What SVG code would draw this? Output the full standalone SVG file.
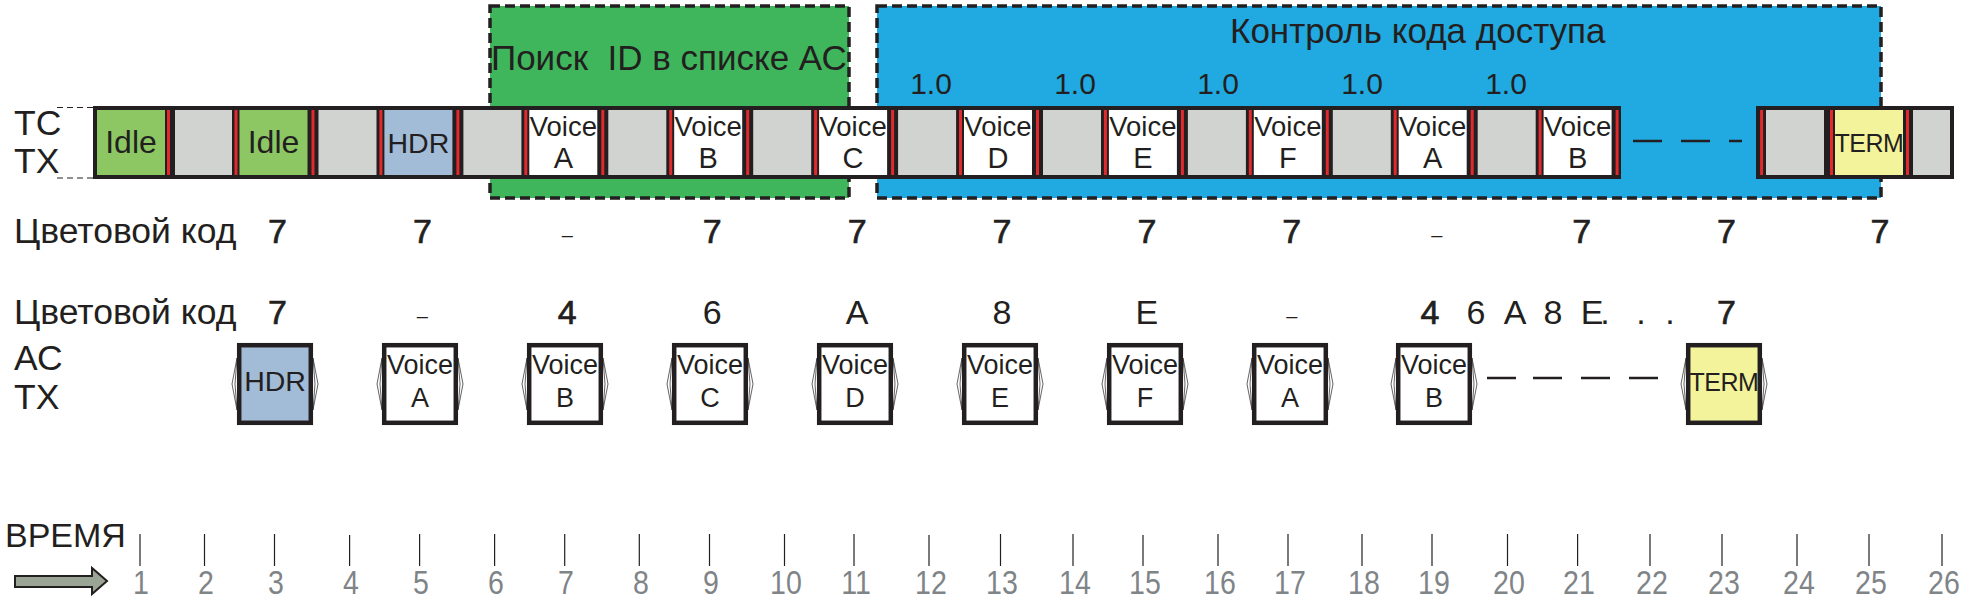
<svg xmlns="http://www.w3.org/2000/svg" width="1978" height="599" viewBox="0 0 1978 599">
<style>
text{font-family:"Liberation Sans",Arial,sans-serif;fill:#231f20}
.lbl{font-size:35.5px}
.val{font-size:34px;text-anchor:middle}
.hv{stroke:#231f20;stroke-width:0.7}
.dash{font-size:20px;text-anchor:middle}
.one{font-size:30px;text-anchor:middle}
.vc{font-size:27.5px;text-anchor:middle}
.lt{font-size:29px;text-anchor:middle}
.avc{font-size:27px;text-anchor:middle}
.tk{font-size:34px;text-anchor:middle;fill:#7f8487}
.band{fill:#231f20}
.red{fill:#e02a2e}
.gr{fill:#d1d3d0}
.wh{fill:#ffffff}
.idle{fill:#8cc764}
.hdr{fill:#a2bbd6}
.term{fill:#f3f39b}
.zone{stroke:#231f20;stroke-width:3.5;stroke-dasharray:10 5}
.acbox{stroke:#231f20;stroke-width:4.5}
.chev{fill:#fff;stroke:#231f20;stroke-width:0.7}
.tick{stroke:#231f20;stroke-width:1.2}
.gap{stroke:#231f20;stroke-width:2.5}
.guide{stroke:#231f20;stroke-width:1;stroke-dasharray:6 4}
</style>

<!-- zones -->
<g id="zone-search">
<rect class="zone" x="490" y="6" width="359" height="192" fill="#3fb65c"/>
<text x="491" y="70" style="font-size:35px;white-space:pre">Поиск  ID в списке АС</text>
</g>
<g id="zone-access">
<rect class="zone" x="877" y="6" width="1004" height="192" fill="#20aae1"/>
<text x="1230" y="43" style="font-size:35px">Контроль кода доступа</text>
<text class="one" x="931" y="94">1.0</text>
<text class="one" x="1075" y="94">1.0</text>
<text class="one" x="1218" y="94">1.0</text>
<text class="one" x="1362" y="94">1.0</text>
<text class="one" x="1506" y="94">1.0</text>
</g>

<!-- row labels -->
<g id="label-tc">
<text class="lbl" x="14" y="135">ТС</text>
<text class="lbl" x="14" y="173">TX</text>
</g>
<g id="label-cc1"><text class="lbl" x="14" y="243">Цветовой код</text></g>
<g id="label-cc2"><text class="lbl" x="14" y="324">Цветовой код</text></g>
<g id="label-ac">
<text class="lbl" x="14" y="370">АС</text>
<text class="lbl" x="14" y="409">TX</text>
</g>

<!-- connectors / guides -->
<g id="connectors">
<line class="guide" x1="57" y1="107.5" x2="93" y2="107.5"/>
<line class="guide" x1="57" y1="178" x2="93" y2="178"/>
<line class="gap" x1="1633" y1="141" x2="1662" y2="141"/>
<line class="gap" x1="1681" y1="141" x2="1710" y2="141"/>
<line class="gap" x1="1729" y1="141" x2="1742" y2="141"/>
<line class="gap" x1="1487" y1="378" x2="1516" y2="378"/>
<line class="gap" x1="1533" y1="378" x2="1562" y2="378"/>
<line class="gap" x1="1581" y1="378" x2="1610" y2="378"/>
<line class="gap" x1="1629" y1="378" x2="1658" y2="378"/>
</g>

<!-- TC TX strip -->
<g id="tc-strip">
<rect class="band" x="93" y="106" width="1528" height="73"/>
<rect class="band" x="1756" y="106" width="198" height="73"/>
<g id="tc-idle1"><rect class="idle" x="97" y="110" width="68" height="65"/><text x="131" y="153" style="font-size:32px;text-anchor:middle">Idle</text></g>
<rect class="gr" x="175" y="110" width="57" height="65"/>
<g id="tc-idle2"><rect class="idle" x="239.5" y="110" width="68" height="65"/><text x="273.5" y="153" style="font-size:32px;text-anchor:middle">Idle</text></g>
<rect class="gr" x="318.5" y="110" width="58" height="65"/>
<g id="tc-hdr"><rect class="hdr" x="384.4" y="110" width="68" height="65"/><text x="418.4" y="153" style="font-size:28.5px;text-anchor:middle">HDR</text></g>
<rect class="gr" x="463.4" y="110" width="58" height="65"/>
<g id="tc-va1"><rect class="wh" x="529.3" y="110" width="68" height="65"/><text class="vc" x="563.3" y="136">Voice</text><text class="lt" x="563.3" y="168">A</text></g>
<rect class="gr" x="608.3" y="110" width="58" height="65"/>
<g id="tc-vb1"><rect class="wh" x="674.2" y="110" width="68" height="65"/><text class="vc" x="708.2" y="136">Voice</text><text class="lt" x="708.2" y="168">B</text></g>
<rect class="gr" x="753.2" y="110" width="58" height="65"/>
<g id="tc-vc"><rect class="wh" x="819.1" y="110" width="68" height="65"/><text class="vc" x="853.1" y="136">Voice</text><text class="lt" x="853.1" y="168">C</text></g>
<rect class="gr" x="898.1" y="110" width="58" height="65"/>
<g id="tc-vd"><rect class="wh" x="964" y="110" width="68" height="65"/><text class="vc" x="998" y="136">Voice</text><text class="lt" x="998" y="168">D</text></g>
<rect class="gr" x="1043" y="110" width="58" height="65"/>
<g id="tc-ve"><rect class="wh" x="1108.9" y="110" width="68" height="65"/><text class="vc" x="1142.9" y="136">Voice</text><text class="lt" x="1142.9" y="168">E</text></g>
<rect class="gr" x="1187.9" y="110" width="58" height="65"/>
<g id="tc-vf"><rect class="wh" x="1253.8" y="110" width="68" height="65"/><text class="vc" x="1287.8" y="136">Voice</text><text class="lt" x="1287.8" y="168">F</text></g>
<rect class="gr" x="1332.8" y="110" width="58" height="65"/>
<g id="tc-va2"><rect class="wh" x="1398.7" y="110" width="68" height="65"/><text class="vc" x="1432.7" y="136">Voice</text><text class="lt" x="1432.7" y="168">A</text></g>
<rect class="gr" x="1477.7" y="110" width="58" height="65"/>
<g id="tc-vb2"><rect class="wh" x="1543.6" y="110" width="68" height="65"/><text class="vc" x="1577.6" y="136">Voice</text><text class="lt" x="1577.6" y="168">B</text></g>
<rect class="gr" x="1766" y="110" width="58" height="65"/>
<g id="tc-term"><rect class="term" x="1835" y="110" width="68" height="65"/><text x="1869" y="152" style="font-size:25px;text-anchor:middle;letter-spacing:-0.5px">TERM</text></g>
<rect class="gr" x="1913" y="110" width="37" height="65"/>
<g id="red-marks">
<rect class="red" x="167" y="110" width="3" height="65"/>
<rect class="red" x="234.5" y="110" width="3" height="65"/>
<rect class="red" x="311.5" y="110" width="3" height="65"/>
<rect class="red" x="379.4" y="110" width="3" height="65"/>
<rect class="red" x="456.4" y="110" width="3" height="65"/>
<rect class="red" x="524.3" y="110" width="3" height="65"/>
<rect class="red" x="601.3" y="110" width="3" height="65"/>
<rect class="red" x="669.2" y="110" width="3" height="65"/>
<rect class="red" x="746.2" y="110" width="3" height="65"/>
<rect class="red" x="814.1" y="110" width="3" height="65"/>
<rect class="red" x="891.1" y="110" width="3" height="65"/>
<rect class="red" x="959" y="110" width="3" height="65"/>
<rect class="red" x="1036" y="110" width="3" height="65"/>
<rect class="red" x="1103.9" y="110" width="3" height="65"/>
<rect class="red" x="1180.9" y="110" width="3" height="65"/>
<rect class="red" x="1248.8" y="110" width="3" height="65"/>
<rect class="red" x="1325.8" y="110" width="3" height="65"/>
<rect class="red" x="1393.7" y="110" width="3" height="65"/>
<rect class="red" x="1470.7" y="110" width="3" height="65"/>
<rect class="red" x="1538.6" y="110" width="3" height="65"/>
<rect class="red" x="1615.6" y="110" width="3" height="65"/>
<rect class="red" x="1760.1" y="110" width="3" height="65"/>
<rect class="red" x="1830" y="110" width="3" height="65"/>
<rect class="red" x="1906" y="110" width="3" height="65"/>
</g>
</g>

<!-- colour code row 1 -->
<g id="cc-row1">
<text class="val hv" x="277.5" y="243">7</text>
<text class="val hv" x="422.4" y="243">7</text>
<text class="dash" x="567.3" y="242">–</text>
<text class="val hv" x="712.2" y="243">7</text>
<text class="val hv" x="857.1" y="243">7</text>
<text class="val hv" x="1002" y="243">7</text>
<text class="val hv" x="1146.9" y="243">7</text>
<text class="val hv" x="1291.8" y="243">7</text>
<text class="dash" x="1436.7" y="242">–</text>
<text class="val hv" x="1581.6" y="243">7</text>
<text class="val hv" x="1726.5" y="243">7</text>
<text class="val hv" x="1880" y="243">7</text>
</g>

<!-- colour code row 2 -->
<g id="cc-row2">
<text class="val hv" x="277.5" y="324">7</text>
<text class="dash" x="422.4" y="323">–</text>
<text class="val hv" x="567.3" y="324">4</text>
<text class="val" x="712.2" y="324">6</text>
<text class="val" x="857.1" y="324">A</text>
<text class="val" x="1002" y="324">8</text>
<text class="val" x="1146.9" y="324">E</text>
<text class="dash" x="1291.8" y="323">–</text>
<text class="val hv" x="1430" y="324">4</text>
<text class="val" y="324"><tspan x="1476">6</tspan><tspan x="1515">A</tspan><tspan x="1553">8</tspan><tspan x="1592">E</tspan><tspan x="1605">.</tspan><tspan x="1641">.</tspan><tspan x="1670">.</tspan></text>
<text class="val hv" x="1726.5" y="324">7</text>
</g>

<!-- AC TX boxes -->
<g id="ac-hdr">
<polygon class="chev" points="237,358 232,384 237,410 235,384"/><polygon class="chev" points="313,358 318,384 313,410 315,384"/>
<rect class="acbox" x="239.2" y="345.2" width="71.6" height="77.6" fill="#a2bbd6"/>
<text x="275" y="391" style="font-size:28.5px;text-anchor:middle">HDR</text>
</g>
<g id="ac-va1">
<polygon class="chev" points="382,358 377,384 382,410 380,384"/><polygon class="chev" points="458,358 463,384 458,410 460,384"/>
<rect class="acbox" x="384.2" y="345.2" width="71.6" height="77.6" fill="#fff"/>
<text class="avc" x="420" y="374">Voice</text><text class="avc" x="420" y="407">A</text>
</g>
<g id="ac-vb1">
<polygon class="chev" points="527,358 522,384 527,410 525,384"/><polygon class="chev" points="603,358 608,384 603,410 605,384"/>
<rect class="acbox" x="529.2" y="345.2" width="71.6" height="77.6" fill="#fff"/>
<text class="avc" x="565" y="374">Voice</text><text class="avc" x="565" y="407">B</text>
</g>
<g id="ac-vc">
<polygon class="chev" points="672,358 667,384 672,410 670,384"/><polygon class="chev" points="748,358 753,384 748,410 750,384"/>
<rect class="acbox" x="674.2" y="345.2" width="71.6" height="77.6" fill="#fff"/>
<text class="avc" x="710" y="374">Voice</text><text class="avc" x="710" y="407">C</text>
</g>
<g id="ac-vd">
<polygon class="chev" points="817,358 812,384 817,410 815,384"/><polygon class="chev" points="893,358 898,384 893,410 895,384"/>
<rect class="acbox" x="819.2" y="345.2" width="71.6" height="77.6" fill="#fff"/>
<text class="avc" x="855" y="374">Voice</text><text class="avc" x="855" y="407">D</text>
</g>
<g id="ac-ve">
<polygon class="chev" points="962,358 957,384 962,410 960,384"/><polygon class="chev" points="1038,358 1043,384 1038,410 1040,384"/>
<rect class="acbox" x="964.2" y="345.2" width="71.6" height="77.6" fill="#fff"/>
<text class="avc" x="1000" y="374">Voice</text><text class="avc" x="1000" y="407">E</text>
</g>
<g id="ac-vf">
<polygon class="chev" points="1107,358 1102,384 1107,410 1105,384"/><polygon class="chev" points="1183,358 1188,384 1183,410 1185,384"/>
<rect class="acbox" x="1109.2" y="345.2" width="71.6" height="77.6" fill="#fff"/>
<text class="avc" x="1145" y="374">Voice</text><text class="avc" x="1145" y="407">F</text>
</g>
<g id="ac-va2">
<polygon class="chev" points="1252,358 1247,384 1252,410 1250,384"/><polygon class="chev" points="1328,358 1333,384 1328,410 1330,384"/>
<rect class="acbox" x="1254.2" y="345.2" width="71.6" height="77.6" fill="#fff"/>
<text class="avc" x="1290" y="374">Voice</text><text class="avc" x="1290" y="407">A</text>
</g>
<g id="ac-vb2">
<polygon class="chev" points="1396,358 1391,384 1396,410 1394,384"/><polygon class="chev" points="1472,358 1477,384 1472,410 1474,384"/>
<rect class="acbox" x="1398.2" y="345.2" width="71.6" height="77.6" fill="#fff"/>
<text class="avc" x="1434" y="374">Voice</text><text class="avc" x="1434" y="407">B</text>
</g>
<g id="ac-term">
<polygon class="chev" points="1686,358 1681,384 1686,410 1684,384"/><polygon class="chev" points="1762,358 1767,384 1762,410 1764,384"/>
<rect class="acbox" x="1688.2" y="345.2" width="71.6" height="77.6" fill="#f3f39b"/>
<text x="1724" y="391" style="font-size:25px;text-anchor:middle;letter-spacing:-0.5px">TERM</text>
</g>

<!-- time axis -->
<g id="time-axis">
<text x="5" y="547" style="font-size:34px">ВРЕМЯ</text>
<polygon points="15,576 92,576 92,568 107,581 92,594 92,587 15,587" fill="#9ba595" stroke="#231f20" stroke-width="2" stroke-linejoin="miter"/>
<g id="ticks">
<line class="tick" x1="140" y1="534" x2="140" y2="566"/>
<line class="tick" x1="204.5" y1="534" x2="204.5" y2="566"/>
<line class="tick" x1="274.5" y1="534" x2="274.5" y2="566"/>
<line class="tick" x1="349.6" y1="535" x2="349.6" y2="566"/>
<line class="tick" x1="419.6" y1="534" x2="419.6" y2="566"/>
<line class="tick" x1="494.6" y1="534" x2="494.6" y2="566"/>
<line class="tick" x1="564.7" y1="534" x2="564.7" y2="566"/>
<line class="tick" x1="639.3" y1="534" x2="639.3" y2="566"/>
<line class="tick" x1="709.5" y1="534" x2="709.5" y2="566"/>
<line class="tick" x1="784.5" y1="534" x2="784.5" y2="566"/>
<line class="tick" x1="854" y1="534" x2="854" y2="566"/>
<line class="tick" x1="929" y1="535" x2="929" y2="566"/>
<line class="tick" x1="1000.5" y1="534" x2="1000.5" y2="566"/>
<line class="tick" x1="1073" y1="534" x2="1073" y2="566"/>
<line class="tick" x1="1143" y1="535" x2="1143" y2="566"/>
<line class="tick" x1="1218" y1="534" x2="1218" y2="566"/>
<line class="tick" x1="1288" y1="534" x2="1288" y2="566"/>
<line class="tick" x1="1362" y1="534" x2="1362" y2="566"/>
<line class="tick" x1="1432" y1="534" x2="1432" y2="566"/>
<line class="tick" x1="1507.5" y1="534" x2="1507.5" y2="566"/>
<line class="tick" x1="1577.6" y1="534" x2="1577.6" y2="566"/>
<line class="tick" x1="1650" y1="534" x2="1650" y2="566"/>
<line class="tick" x1="1722" y1="534" x2="1722" y2="566"/>
<line class="tick" x1="1797" y1="534" x2="1797" y2="566"/>
<line class="tick" x1="1869" y1="534" x2="1869" y2="566"/>
<line class="tick" x1="1942" y1="534" x2="1942" y2="566"/>
</g>
<g id="tick-labels">
<text class="tk" transform="translate(141 594) scale(0.84 1)">1</text>
<text class="tk" transform="translate(206 594) scale(0.84 1)">2</text>
<text class="tk" transform="translate(276 594) scale(0.84 1)">3</text>
<text class="tk" transform="translate(351 594) scale(0.84 1)">4</text>
<text class="tk" transform="translate(421 594) scale(0.84 1)">5</text>
<text class="tk" transform="translate(496 594) scale(0.84 1)">6</text>
<text class="tk" transform="translate(566 594) scale(0.84 1)">7</text>
<text class="tk" transform="translate(641 594) scale(0.84 1)">8</text>
<text class="tk" transform="translate(711 594) scale(0.84 1)">9</text>
<text class="tk" transform="translate(786 594) scale(0.84 1)">10</text>
<text class="tk" transform="translate(856 594) scale(0.84 1)">11</text>
<text class="tk" transform="translate(931 594) scale(0.84 1)">12</text>
<text class="tk" transform="translate(1002 594) scale(0.84 1)">13</text>
<text class="tk" transform="translate(1075 594) scale(0.84 1)">14</text>
<text class="tk" transform="translate(1145 594) scale(0.84 1)">15</text>
<text class="tk" transform="translate(1220 594) scale(0.84 1)">16</text>
<text class="tk" transform="translate(1290 594) scale(0.84 1)">17</text>
<text class="tk" transform="translate(1364 594) scale(0.84 1)">18</text>
<text class="tk" transform="translate(1434 594) scale(0.84 1)">19</text>
<text class="tk" transform="translate(1509 594) scale(0.84 1)">20</text>
<text class="tk" transform="translate(1579 594) scale(0.84 1)">21</text>
<text class="tk" transform="translate(1652 594) scale(0.84 1)">22</text>
<text class="tk" transform="translate(1724 594) scale(0.84 1)">23</text>
<text class="tk" transform="translate(1799 594) scale(0.84 1)">24</text>
<text class="tk" transform="translate(1871 594) scale(0.84 1)">25</text>
<text class="tk" transform="translate(1944 594) scale(0.84 1)">26</text>
</g>
</g>
</svg>
